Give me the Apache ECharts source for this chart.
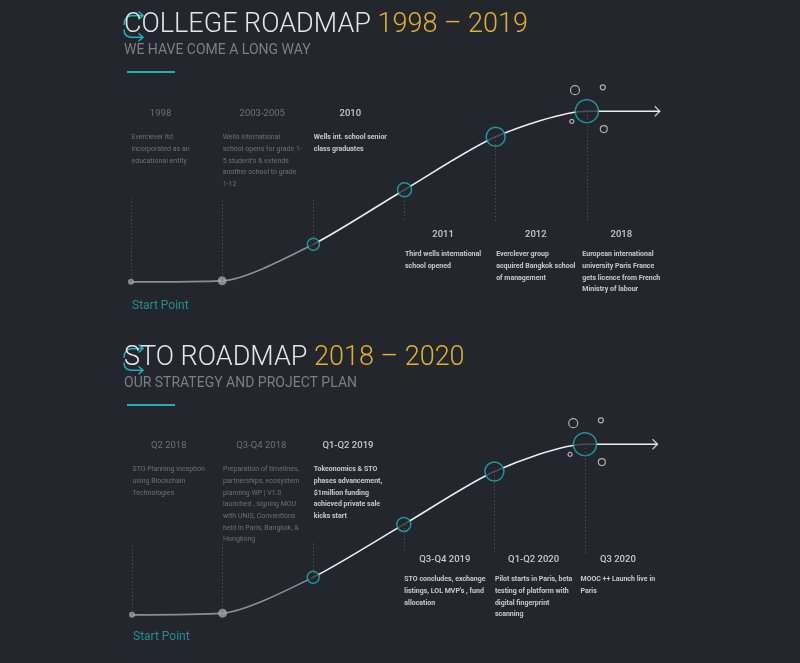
<!DOCTYPE html>
<html>
<head>
<meta charset="utf-8">
<title>Roadmaps</title>
<style>
  html, body { margin: 0; padding: 0; background: #23262d; }
  #chart { width: 800px; height: 663px; }
</style>
<script src="https://cdn.jsdelivr.net/npm/echarts@6/dist/echarts.min.js"></script>
</head>
<body>
<div id="chart"></div>
<script>
// ---- data ----
var collegeYears = ['1998', '2003-2005', '2010', '2011', '2012', '2018'];
var collegeNotes = [
    'Everclever ltd\nincorporated as an\neducational entity',
    'Wells international\nschool opens for grade 1-\n5 student\'s & extends\nanother school to grade\n1-12',
    'Wells int. school senior\nclass graduates',
    'Third wells international\nschool opened',
    'Everclever group\nacquired Bangkok school\nof management',
    'European international\nuniversity Paris France\ngets licence from French\nMinistry of labour'
];
var collegeProgress = [0, 0.6, 22, 54, 85, 100];

var stoPeriods = ['Q2 2018', 'Q3-Q4 2018', 'Q1-Q2 2019', 'Q3-Q4 2019', 'Q1-Q2 2020', 'Q3 2020'];
var stoNotes = [
    'STO Planning inception\nusing Blockchain\nTechnologies',
    'Preparation of timelines,\npartnerships, ecosystem\nplanning WP | V1.0\nlaunched , signing MOU\nwith UNIS, Conventions\nheld in Paris, Bangkok, &\nHongkong',
    'Tokeonomics & STO\nphases advancement,\n$1million funding\nachieved private sale\nkicks start',
    'STO concludes, exchange\nlistings, LOL MVP\'s , fund\nallocation',
    'Pilot starts in Paris, beta\ntesting of platform with\ndigital fingerprint\nscanning',
    'MOOC ++ Launch live in\nParis'
];
var stoProgress = [0, 1, 22, 53, 84, 100];

var pastCount = 2;      // milestones already behind (grey)
var arrowEnd = 5.8;     // x where the arrow stops
// little rings around the last milestone, offsets [dx, dy]
var bubbleOffsets = [[-0.13, 12.3], [0.175, 14], [-0.165, -6], [0.186, -10.5]];

// ---- styles ----
var BG = '#23262d';
var TEAL = '#1bb3b7';
var WHITE = '#ededed';
var GREY_LINE = '#8a8e95';
var GREY_DOT = '#a2a6ac';
var GREY_TEXT = '#7e8289';
var STEM = '#50545c';
var YELLOW = '#e2b02b';
var FONT = 'Roboto, "Noto Sans", sans-serif';
var nodeSizes = [6, 9, 12, 14, 19, 23];
var bubbleSizes = [9, 5, 4, 7];

var rich = {
    yp: { color: GREY_TEXT, fontFamily: FONT, fontSize: 9.5, lineHeight: 36, align: 'center' },
    yu: { color: WHITE, fontFamily: FONT, fontSize: 9.5, fontWeight: 500, lineHeight: 36, align: 'center' },
    yl: { color: WHITE, fontFamily: FONT, fontSize: 9.5, fontWeight: 500, lineHeight: 28, align: 'center' },
    dp: { color: GREY_TEXT, fontFamily: FONT, fontSize: 7, lineHeight: 11.7 },
    df: { color: WHITE, fontFamily: FONT, fontSize: 7, fontWeight: 'bold', lineHeight: 11.7 }
};

// grey up to the current milestone, white after it (line spans x 0..arrowEnd)
var cut = pastCount / arrowEnd;
var curveColor = new echarts.graphic.LinearGradient(0, 0, 1, 0, [
    { offset: 0, color: GREY_LINE },
    { offset: cut, color: GREY_LINE },
    { offset: cut, color: WHITE },
    { offset: 1, color: WHITE }
]);

/**
 * one roadmap: curve, milestones, stems, arrow, text
 */
function roadmap(k, periods, notes, progress, rows) {
    var last = progress.length - 1;
    var curve = progress.map(function (v, i) { return [i, v]; });
    curve.push([arrowEnd, progress[last]]);

    var stems = progress.map(function (v, i) {
        return [{ coord: [i, v] }, { coord: [i, i <= pastCount ? rows.stemTop : rows.stemLow] }];
    });

    return [{
        type: 'line',
        xAxisIndex: k, yAxisIndex: k,
        data: curve,
        smooth: 0.25,
        showSymbol: false,
        silent: true,
        lineStyle: { width: 1.6, color: curveColor },
        z: 2
    }, {
        // milestone nodes
        type: 'scatter',
        xAxisIndex: k, yAxisIndex: k,
        silent: true,
        z: 3,
        data: progress.map(function (v, i) {
            var past = i < pastCount;
            return {
                value: [i, v],
                symbolSize: nodeSizes[i],
                itemStyle: past ? { color: GREY_DOT } : { color: BG, borderColor: TEAL, borderWidth: 1.5 },
                label: i === 0 ? {
                    show: true, formatter: 'Start Point', position: [4, rows.startGap],
                    align: 'left', verticalAlign: 'middle',
                    color: '#1fa9ad', fontFamily: FONT, fontSize: 12
                } : { show: false }
            };
        })
    }, {
        // arrow head
        type: 'scatter',
        xAxisIndex: k, yAxisIndex: k,
        silent: true,
        z: 3,
        symbol: 'path://M0,0L5,5L0,10',
        symbolSize: [5, 10],
        symbolOffset: [-2.5, 0],
        itemStyle: { color: 'transparent', borderColor: WHITE, borderWidth: 1.3 },
        data: [[arrowEnd, progress[last]]]
    }, {
        // rings around the goal
        type: 'scatter',
        xAxisIndex: k, yAxisIndex: k,
        silent: true,
        z: 3,
        data: bubbleOffsets.map(function (o, j) {
            return { value: [last + o[0], progress[last] + o[1]], symbolSize: bubbleSizes[j] };
        }),
        itemStyle: { color: 'transparent', borderColor: '#cfd0d3', borderWidth: 1.2 }
    }, {
        // texts + dotted stems
        type: 'scatter',
        xAxisIndex: k, yAxisIndex: k,
        silent: true,
        z: 1,
        symbolSize: 1,
        itemStyle: { color: 'transparent' },
        data: periods.map(function (p, i) {
            var item = { value: [i, i <= pastCount ? rows.upper : rows.lower] };
            if (i === last) item.label = { position: [-4, 0] }; // goal text sits a bit left
            return item;
        }),
        label: {
            show: true,
            position: [1, 0],
            align: 'left',
            verticalAlign: 'top',
            formatter: function (params) {
                var i = params.dataIndex;
                var y = i < pastCount ? 'yp' : (i <= pastCount ? 'yu' : 'yl');
                var d = i < pastCount ? 'dp' : 'df';
                return '{' + y + '|' + periods[i] + '}\n{' + d + '|' + notes[i] + '}';
            },
            rich: rich
        },
        markLine: {
            silent: true,
            symbol: ['none', 'none'],
            label: { show: false },
            lineStyle: { type: [1.2, 2.4], color: STEM, width: 1 },
            data: stems
        }
    }];
}

var series = []
    .concat(roadmap(0, collegeYears, collegeNotes, collegeProgress,
        { upper: 108.9, lower: 35.6, stemTop: 49, stemLow: 35, startGap: 27 }))
    .concat(roadmap(1, stoPeriods, stoNotes, stoProgress,
        { upper: 109.4, lower: 40.3, stemTop: 42, stemLow: 36, startGap: 25 }));

function heading(text, years, sub, top) {
    return {
        text: '{w|' + text + ' }{y|' + years + '}',
        subtext: sub,
        left: 124,
        top: top,
        padding: 0,
        itemGap: 4,
        textStyle: {
            rich: {
                w: { fontFamily: FONT, fontSize: 27, fontWeight: 300, color: '#e4e5e7' },
                y: { fontFamily: FONT, fontSize: 27, fontWeight: 300, color: YELLOW }
            }
        },
        subtextStyle: { fontFamily: FONT, fontSize: 14, color: '#7b7f87' }
    };
}

// the little double-arrow mark in front of each heading
function icon(dy) {
    var line = { stroke: TEAL, lineWidth: 1.5, fill: null };
    return {
        type: 'group',
        silent: true,
        y: dy,
        children: [
            { type: 'polyline', shape: { points: [[124, 25], [124.6, 20.5], [126.8, 17.3], [130.5, 15.8], [143, 15.5]] }, style: line },
            { type: 'polyline', shape: { points: [[138.5, 11.5], [143, 15.5], [138.5, 19.5]] }, style: line },
            { type: 'polyline', shape: { points: [[124, 29.5], [124.6, 33.5], [126.8, 36], [130.5, 37.2], [143, 37.2]] }, style: line },
            { type: 'polyline', shape: { points: [[138.5, 33.2], [143, 37.2], [138.5, 41.2]] }, style: line }
        ]
    };
}

function underline(y) {
    return { type: 'rect', silent: true, shape: { x: 127, y: y, width: 48, height: 2 }, style: { fill: TEAL } };
}

var chart = echarts.init(document.getElementById('chart'));
chart.setOption({
    backgroundColor: BG,
    animation: false,
    title: [
        heading('COLLEGE ROADMAP', '1998 – 2019', 'WE HAVE COME A LONG WAY', 12),
        heading('STO ROADMAP', '2018 – 2020', 'OUR STRATEGY AND PROJECT PLAN', 345)
    ],
    grid: [
        { left: 131, top: 60, width: 547, height: 256 },
        { left: 132, top: 393, width: 543.6, height: 256 }
    ],
    xAxis: [
        { gridIndex: 0, type: 'value', min: 0, max: 6, show: false },
        { gridIndex: 1, type: 'value', min: 0, max: 6, show: false }
    ],
    yAxis: [
        { gridIndex: 0, type: 'value', min: -20, max: 130, show: false },
        { gridIndex: 1, type: 'value', min: -20, max: 130, show: false }
    ],
    graphic: [icon(0), icon(333), underline(71), underline(404)],
    series: series
});
</script>
</body>
</html>
